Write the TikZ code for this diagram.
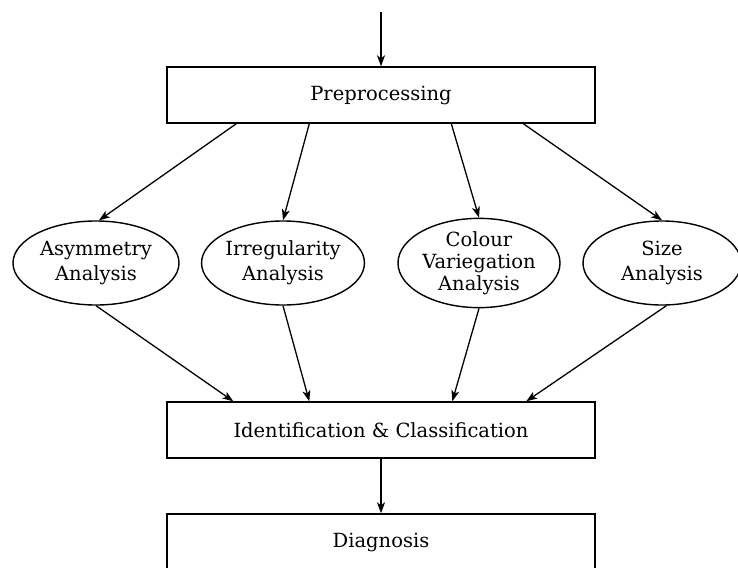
\documentclass[tikz,border=0pt]{standalone}
\usepackage{fontspec}
\setmainfont{DejaVu Serif}
\usetikzlibrary{shapes.geometric,arrows.meta,calc}
\begin{document}
\begin{tikzpicture}[x=1pt,y=-1pt,
  every node/.style={font=\fontsize{19.5}{25}\selectfont},
  box/.style={draw, line width=1.4pt, rectangle, minimum width=428pt, minimum height=56pt, inner sep=0pt},
  oval/.style={draw, line width=1.4pt, ellipse, minimum height=84pt, inner sep=0pt, align=center},
  arr/.style={line width=1.3pt, -{Stealth[length=11pt,width=8pt,inset=3pt]}}]
\useasboundingbox (0,0) rectangle (738,567);
\node[box] (pre) at (381,95) {Preprocessing};
\node[oval, minimum width=166pt] (asym) at (96,263) {Asymmetry\\Analysis};
\node[oval, minimum width=160pt] (irreg) at (283,263) {Irregularity\\Analysis};
\node[oval, minimum width=162pt, font=\fontsize{19.5}{22}\selectfont] (col) at (479,263) {Colour\\Variegation\\Analysis};
\node[oval, minimum width=158pt] (size) at (662,263) {Size\\Analysis};
\node[box] (ident) at (381,430) {Identification \& Classification};
\node[box] (diag) at (381,542) {Diagnosis};
\coordinate (in) at (381,12);
\draw[arr] (in) -- (pre.north);
\draw[arr] ($(pre.south west)+(70,0)$) -- (asym.86);
\draw[arr] ($(pre.south west)+(143,0)$) -- (irreg.north);
\draw[arr] ($(pre.south west)+(285,0)$) -- (col.north);
\draw[arr] ($(pre.south west)+(357,0)$) -- (size.north);
\draw[arr] (asym.south) -- ($(ident.north west)+(67,0)$);
\draw[arr] (irreg.south) -- ($(ident.north west)+(143,0)$);
\draw[arr] (col.south) -- ($(ident.north west)+(286,0)$);
\draw[arr] (size.-84) -- ($(ident.north west)+(360,0)$);
\draw[arr] (ident.south) -- (diag.north);
\end{tikzpicture}
\end{document}
